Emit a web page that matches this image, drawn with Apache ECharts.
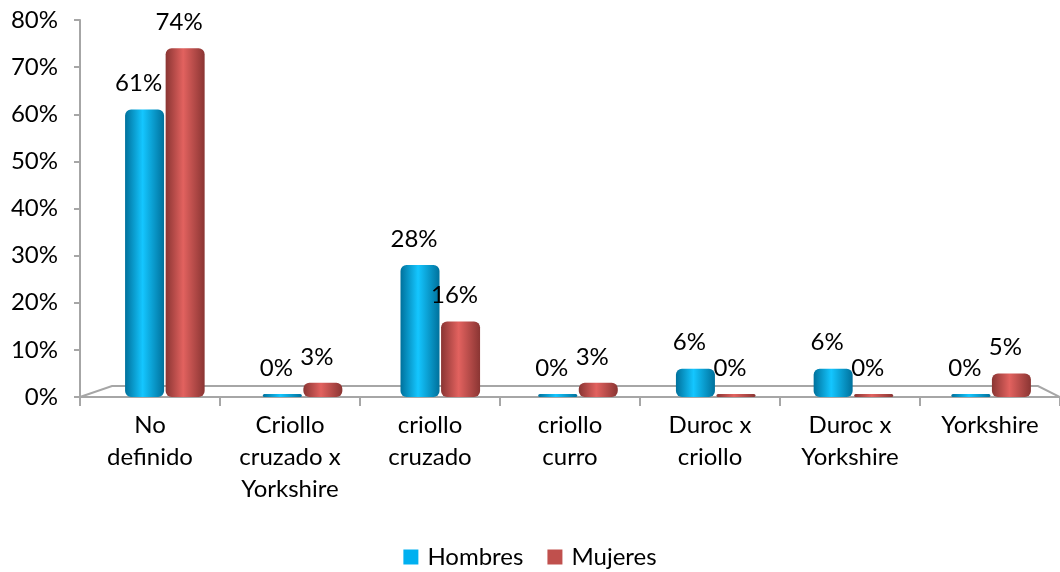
<!DOCTYPE html>
<html>
<head>
<meta charset="utf-8">
<script src="https://cdn.jsdelivr.net/npm/echarts@6/dist/echarts.min.js"></script>
<style>
html,body{margin:0;padding:0;background:#fff;}
#chart{width:1060px;height:572px;}
</style>
</head>
<body>
<div id="chart"></div>
<script>
const categories = ['No\ndefinido', 'Criollo\ncruzado x\nYorkshire', 'criollo\ncruzado', 'criollo\ncurro', 'Duroc x\ncriollo', 'Duroc x\nYorkshire', 'Yorkshire'];
const hombres = [61, 0, 28, 0, 6, 6, 0];
const mujeres = [74, 3, 16, 3, 0, 0, 5];
const yTicks = [0, 10, 20, 30, 40, 50, 60, 70, 80];

const FONT = 'Lato, "Open Sans", sans-serif';
const FS = 24;
const chart = echarts.init(document.getElementById('chart'));

function cyl(dark, light) {
  return new echarts.graphic.LinearGradient(0, 0, 1, 0, [
    {offset: 0, color: dark},
    {offset: 0.45, color: light},
    {offset: 1, color: dark}
  ]);
}

const labelCfg = {
  show: true, position: 'top', distance: 14, offset: [-6, 0],
  formatter: p => p.value + '%', color: '#000', fontSize: FS, fontFamily: FONT
};

chart.setOption({
  animation: false,
  legend: {
    bottom: -2, left: 'center', itemWidth: 15, itemHeight: 15, itemGap: 24,
    icon: 'rect',
    textStyle: {fontSize: FS, fontFamily: FONT, color: '#000', padding: [0, 0, 0, 4]},
    data: [
      {name: 'Hombres', itemStyle: {color: '#00B0F0'}},
      {name: 'Mujeres', itemStyle: {color: '#C0504D'}}
    ]
  },
  grid: [
    {left: 80, right: 0, top: 20, bottom: 175},
    {left: 96, right: -16, top: 20, bottom: 175}
  ],
  xAxis: [
    {
      type: 'category', gridIndex: 0, data: categories,
      axisLine: {lineStyle: {color: '#A6A6A6', width: 2}},
      axisTick: {show: true, length: 9, lineStyle: {color: '#A6A6A6', width: 2}},
      axisLabel: {fontSize: FS, fontFamily: FONT, color: '#000', lineHeight: 32, margin: 12, interval: 0}
    },
    {
      type: 'category', gridIndex: 1, data: categories, show: false
    }
  ],
  yAxis: [
    {
      type: 'value', gridIndex: 0, min: 0, max: 80, interval: 10,
      axisLine: {show: true, lineStyle: {color: '#A6A6A6', width: 2}},
      axisTick: {show: true, length: 6, lineStyle: {color: '#A6A6A6', width: 2}},
      splitLine: {show: false},
      axisLabel: {
        fontSize: FS, fontFamily: FONT, color: '#000', margin: 22,
        formatter: v => (yTicks.indexOf(v) >= 0 ? v + '%' : '')
      }
    },
    {
      type: 'value', gridIndex: 1, min: 0, max: 80, interval: 10, show: false
    }
  ],
  graphic: [
    {
      type: 'polyline', silent: true, z: 0,
      shape: {points: [[80, 397], [112, 386], [1038, 386], [1060, 397]]},
      style: {stroke: '#A6A6A6', lineWidth: 2, fill: 'none'}
    }
  ],
  series: [
    {
      name: 'Hombres', type: 'bar', xAxisIndex: 1, yAxisIndex: 1,
      data: hombres, barWidth: 39, barGap: '4%', barMinHeight: 3,
      itemStyle: {color: cyl('#00719c', '#14c6ff'), borderRadius: [6, 6, 6, 6]},
      label: labelCfg
    },
    {
      name: 'Mujeres', type: 'bar', xAxisIndex: 1, yAxisIndex: 1,
      data: mujeres, barWidth: 39, barMinHeight: 3,
      itemStyle: {color: cyl('#8a3533', '#e2625f'), borderRadius: [6, 6, 6, 6]},
      label: labelCfg
    }
  ]
});
</script>
</body>
</html>
